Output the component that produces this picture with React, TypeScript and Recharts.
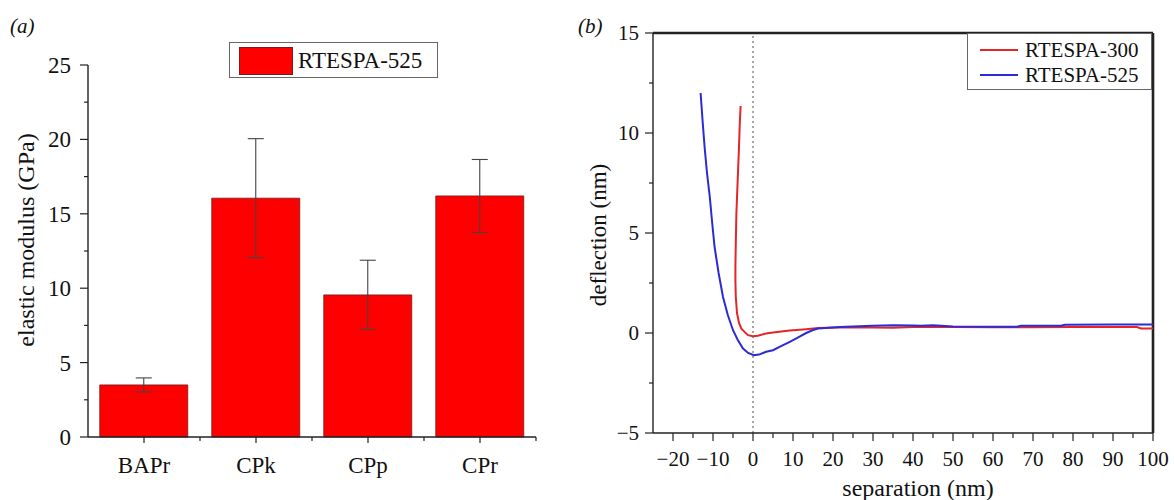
import { BarChart, Bar, XAxis, YAxis, ErrorBar, Legend, LineChart, Line, ReferenceLine } from 'recharts'

// panel (a): elastic modulus per sample
const samples = ['BAPr', 'CPk', 'CPp', 'CPr']
const modulus = [3.5, 16.05, 9.55, 16.2]
const modulusErr = [0.47, 4.0, 2.33, 2.45]
const modulusTicks = [0, 2.5, 5, 7.5, 10, 12.5, 15, 17.5, 20, 22.5, 25]
const modulusLabels = [0, 5, 10, 15, 20, 25]

// panel (b): force curves
const sepTicks = [-20, -15, -10, -5, 0, 5, 10, 15, 20, 25, 30, 35, 40, 45, 50, 55, 60, 65, 70, 75, 80, 85, 90, 95, 100]
const sepLabels = [-20, -10, 0, 10, 20, 30, 40, 50, 60, 70, 80, 90, 100]
const deflTicks = [-5, -2.5, 0, 2.5, 5, 7.5, 10, 12.5, 15]
const deflLabels = [-5, 0, 5, 10, 15]
const sepMax = 100
const deflMax = 15

const rt300X = [-3.1, -3.3, -3.5, -3.8, -4.15, -4.3, -4.4, -4.4, -4.3, -4.0, -3.5, -2.9, -2.0, -1.25, 0, 1.2, 3.3, 5, 9.2, 13.3, 16.3, 21.7, 30, 35, 40, 50, 60, 70, 80, 90, 96, 97, 100]
const rt300Y = [11.35, 10.5, 9.3, 7.8, 6.0, 4.5, 3.3, 2.6, 1.8, 1.0, 0.5, 0.22, 0.03, -0.11, -0.16, -0.14, -0.02, 0.03, 0.12, 0.19, 0.25, 0.27, 0.28, 0.26, 0.3, 0.3, 0.29, 0.29, 0.3, 0.3, 0.3, 0.23, 0.22]
const rt525X = [-13.1, -12.6, -12.1, -11.5, -10.8, -10.2, -9.6, -8.6, -7.5, -6.3, -5.0, -3.8, -2.5, -1.2, 0.2, 1.5, 3.3, 5, 7, 9.2, 11.3, 13.3, 15, 16.3, 21.7, 30, 35, 40, 42, 45, 50, 60, 66, 67, 77, 78, 90, 100]
const rt525Y = [12.0, 10.6, 9.3, 8.0, 6.8, 5.5, 4.3, 3.0, 1.8, 0.9, 0.14, -0.35, -0.78, -1.0, -1.11, -1.08, -0.94, -0.86, -0.66, -0.44, -0.22, 0.0, 0.15, 0.22, 0.3, 0.36, 0.39, 0.38, 0.36, 0.39, 0.33, 0.31, 0.31, 0.36, 0.36, 0.41, 0.42, 0.42]

const SERIF = '"Liberation Serif", "Times New Roman", serif'
const INK = '#222'
const HALF_BAND = 56

const barData = samples.map((s, i) => ({ sample: s, modulus: modulus[i], err: modulusErr[i] }))
const rt300 = rt300X.map((x, i) => ({ x, y: rt300Y[i] }))
const rt525 = rt525X.map((x, i) => ({ x, y: rt525Y[i] }))

const fmt = (v: number) => (v < 0 ? '\u2212' + Math.abs(v) : String(v))

const CategoryTick = ({ x, y, payload }: any) => (
  <g>
    <line x1={x} y1={y} x2={x} y2={y + 6} stroke={INK} strokeWidth={1.2} />
    <line x1={x + HALF_BAND} y1={y} x2={x + HALF_BAND} y2={y + 4} stroke={INK} strokeWidth={1.2} />
    <text x={x} y={y + 36} textAnchor="middle" fontSize={23} fontFamily={SERIF} fill="#111">{payload.value}</text>
  </g>
)

const ModulusTick = ({ x, y, payload }: any) => {
  const major = modulusLabels.includes(payload.value)
  return (
    <g>
      <line x1={x - (major ? 8 : 4)} y1={y} x2={x} y2={y} stroke={INK} strokeWidth={1.2} />
      {major && (
        <text x={x - 17} y={y} dy="0.35em" textAnchor="end" fontSize={23} fontFamily={SERIF} fill="#111">{payload.value}</text>
      )}
    </g>
  )
}

const SepTick = ({ x, y, payload }: any) => {
  const major = sepLabels.includes(payload.value)
  return (
    <g>
      <line x1={x} y1={y} x2={x} y2={y + (major ? 8 : 5)} stroke={INK} strokeWidth={1.2} />
      {major && (
        <text x={x} y={y + 33} textAnchor="middle" fontSize={21} fontFamily={SERIF} fill="#111">{fmt(payload.value)}</text>
      )}
    </g>
  )
}

const DeflTick = ({ x, y, payload }: any) => {
  const major = deflLabels.includes(payload.value)
  return (
    <g>
      <line x1={x - (major ? 8 : 4)} y1={y} x2={x} y2={y} stroke={INK} strokeWidth={1.2} />
      {major && (
        <text x={x - 14} y={y} dy="0.35em" textAnchor="end" fontSize={21} fontFamily={SERIF} fill="#111">{fmt(payload.value)}</text>
      )}
    </g>
  )
}

const YTitle = ({ viewBox, text, dx = 0, dy = 0, size = 23 }: any) => {
  const cx = viewBox.x + viewBox.width / 2 + dx
  const cy = viewBox.y + viewBox.height / 2 + dy
  return (
    <text x={cx} y={cy} transform={`rotate(-90 ${cx} ${cy})`} textAnchor="middle" dominantBaseline="central" fontSize={size} fontFamily={SERIF} fill="#111">
      {text}
    </text>
  )
}

const XTitle = ({ viewBox, text, dx = 0, dy = 0, size = 23 }: any) => (
  <text x={viewBox.x + viewBox.width / 2 + dx} y={viewBox.y + viewBox.height / 2 + dy} textAnchor="middle" dominantBaseline="central" fontSize={size} fontFamily={SERIF} fill="#111">
    {text}
  </text>
)

const BarLegend = ({ payload }: any) => (
  <div style={{ width: '100%', height: '100%', boxSizing: 'border-box', border: '1.5px solid #666', background: '#fff', position: 'relative' }}>
    {(payload || []).map((e: any) => (
      <div key={e.value}>
        <div style={{ position: 'absolute', left: 9, top: 4, width: 52, height: 26, background: '#ff0000', border: '1px solid #7a1a1a' }} />
        <span style={{ position: 'absolute', left: 68, top: 5, fontFamily: SERIF, fontSize: 23, lineHeight: '26px', color: '#111', whiteSpace: 'nowrap' }}>{e.value}</span>
      </div>
    ))}
  </div>
)

const LineLegend = ({ payload }: any) => (
  <div style={{ width: '100%', height: '100%', boxSizing: 'border-box', border: '1.5px solid #666', background: '#fff', position: 'relative' }}>
    {(payload || []).map((e: any, i: number) => (
      <div key={e.value}>
        <div style={{ position: 'absolute', left: 12, top: 15 + i * 25, width: 38, height: 2, background: e.color }} />
        <span style={{ position: 'absolute', left: 57, top: 4 + i * 25, fontFamily: SERIF, fontSize: 21, lineHeight: '24px', color: '#111', whiteSpace: 'nowrap' }}>{e.value}</span>
      </div>
    ))}
  </div>
)

const panelTag = (left: number, text: string) => (
  <div style={{ position: 'absolute', left, top: 14, fontFamily: SERIF, fontSize: 21, fontStyle: 'italic', color: '#111' }}>
    ({text})
  </div>
)

export default function App() {
  return (
    <div style={{ position: 'absolute', left: 0, top: 0, width: 1174, height: 500, background: '#fff', overflow: 'hidden' }}>
      {panelTag(10, 'a')}
      {panelTag(578, 'b')}

      <div style={{ position: 'absolute', left: 0, top: 0 }}>
        <BarChart width={560} height={500} data={barData} margin={{ top: 65, right: 24, bottom: 13, left: 0 }} barCategoryGap="10.5%">
          <XAxis
            dataKey="sample"
            height={50}
            interval={0}
            tickSize={0}
            tickMargin={0}
            tickLine={false}
            tick={<CategoryTick />}
            axisLine={{ stroke: INK, strokeWidth: 1.4 }}
          />
          <YAxis
            width={88}
            type="number"
            domain={[0, 25]}
            ticks={modulusTicks}
            interval={0}
            tickSize={0}
            tickMargin={0}
            tickLine={false}
            tick={<ModulusTick />}
            axisLine={{ stroke: INK, strokeWidth: 1.4 }}
            label={<YTitle text="elastic modulus (GPa)" dx={-18} dy={-11} size={24} />}
          />
          <Legend
            layout="vertical"
            verticalAlign="middle"
            align="center"
            content={<BarLegend />}
            wrapperStyle={{ left: 229, top: 42, width: 209, height: 36 }}
          />
          <Bar dataKey="modulus" name="RTESPA-525" fill="#ff0000" stroke="#6b1c1c" strokeWidth={0.8} isAnimationActive={false}>
            <ErrorBar dataKey="err" width={8} stroke="#444" strokeWidth={1.1} />
          </Bar>
        </BarChart>
      </div>

      <div style={{ position: 'absolute', left: 560, top: 0 }}>
        <LineChart width={614} height={500} margin={{ top: 33, right: 21, bottom: 7, left: 0 }}>
          <XAxis
            dataKey="x"
            type="number"
            domain={[-25, 100]}
            ticks={sepTicks}
            interval={0}
            allowDataOverflow
            height={60}
            tickSize={0}
            tickMargin={0}
            tickLine={false}
            tick={<SepTick />}
            axisLine={{ stroke: INK, strokeWidth: 1.4 }}
            label={<XTitle text="separation (nm)" dx={15} dy={25} size={24} />}
          />
          <YAxis
            dataKey="y"
            type="number"
            domain={[-5, 15]}
            ticks={deflTicks}
            interval={0}
            allowDataOverflow
            width={93}
            tickSize={0}
            tickMargin={0}
            tickLine={false}
            tick={<DeflTick />}
            axisLine={{ stroke: INK, strokeWidth: 1.4 }}
            label={<YTitle text="deflection (nm)" dx={-8} dy={2} size={23} />}
          />
          <ReferenceLine x={0} stroke="#777" strokeWidth={1.3} strokeDasharray="2 3" />
          <ReferenceLine y={deflMax} stroke={INK} strokeWidth={2.6} ifOverflow="visible" />
          <ReferenceLine x={sepMax} stroke={INK} strokeWidth={2.6} ifOverflow="visible" />
          <Line data={rt300} dataKey="y" name="RTESPA-300" type="linear" stroke="#e42528" strokeWidth={2} dot={false} isAnimationActive={false} />
          <Line data={rt525} dataKey="y" name="RTESPA-525" type="linear" stroke="#2b2bd6" strokeWidth={2} dot={false} isAnimationActive={false} />
          <Legend
            layout="vertical"
            verticalAlign="middle"
            align="center"
            content={<LineLegend />}
            wrapperStyle={{ left: 407, top: 33, width: 185, height: 57 }}
          />
        </LineChart>
      </div>
    </div>
  )
}
